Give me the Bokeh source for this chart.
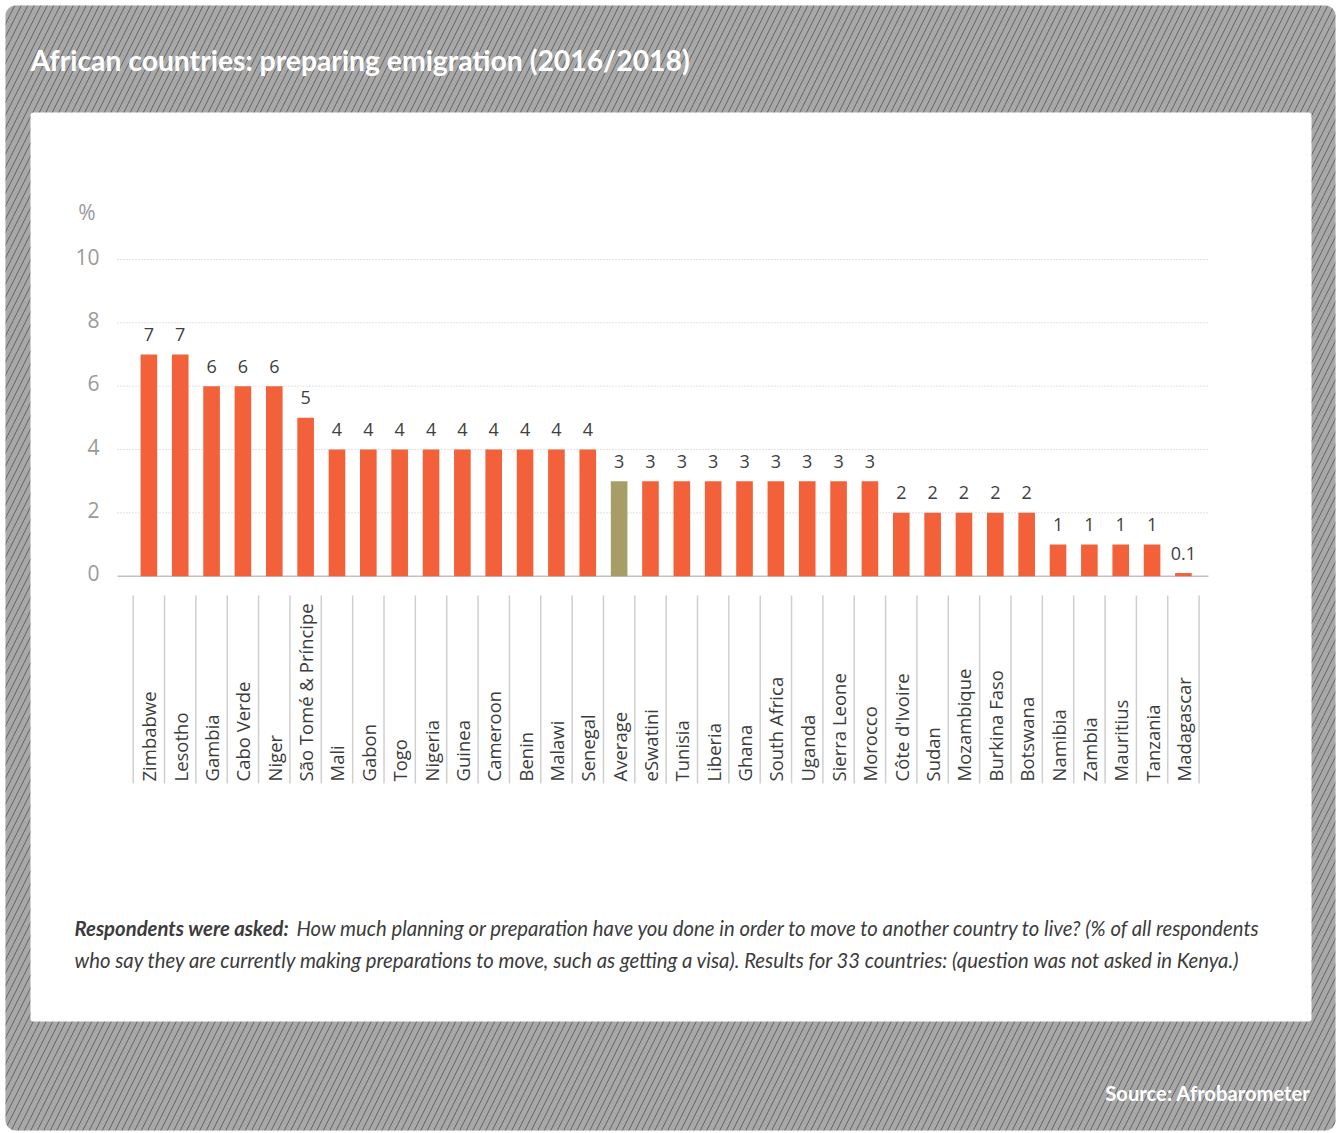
import math
from bokeh.plotting import figure
from bokeh.models import Range1d, BoxAnnotation, Label, ColumnDataSource
from bokeh.core.properties import value
from bokeh.embed import file_html
from bokeh.resources import INLINE

# ---------------- data ----------------
countries = ["Zimbabwe", "Lesotho", "Gambia", "Cabo Verde", "Niger", "São Tomé & Príncipe",
             "Mali", "Gabon", "Togo", "Nigeria", "Guinea", "Cameroon", "Benin", "Malawi",
             "Senegal", "Average", "eSwatini", "Tunisia", "Liberia", "Ghana", "South Africa",
             "Uganda", "Sierra Leone", "Morocco", "Côte d'Ivoire", "Sudan", "Mozambique",
             "Burkina Faso", "Botswana", "Namibia", "Zambia", "Mauritius", "Tanzania", "Madagascar"]
values = [7, 7, 6, 6, 6, 5,
          4, 4, 4, 4, 4, 4, 4, 4,
          4, 3, 3, 3, 3, 3, 3,
          3, 3, 3, 2, 2, 2,
          2, 2, 1, 1, 1, 1, 0.1]
y_ticks = [0, 2, 4, 6, 8, 10]
y_unit = "%"
highlight = "Average"

title_text = "African countries: preparing emigration (2016/2018)"
note_bold = "Respondents were asked:"
note_line1 = ("How much planning or preparation have you done in order to move to another "
              "country to live? (% of all respondents")
note_line2 = ("who say they are currently making preparations to move, such as getting a visa). "
              "Results for 33 countries: (question was not asked in Kenya.)")
source_text = "Source: Afrobarometer"

# ---------------- layout constants (canvas px) ----------------
W, H = 1336, 1131
ZERO_Y = 575.7          # canvas y of value 0
PX_Y = 31.67            # px per % unit
CAT_PX = 31.35          # px per category
FIRST_EDGE = 132.7      # canvas x of first category boundary
GRID_L, GRID_R = 117, 1208

x_start = -0.5 - FIRST_EDGE / CAT_PX
x_end = x_start + W / CAT_PX
y_end = ZERO_Y / PX_Y
y_start = -(H - ZERO_Y) / PX_Y


def dx(cx):
    return x_start + cx / CAT_PX


def dy(cy):
    return (ZERO_Y - cy) / PX_Y


BAR = "#f26139"
AVG = "#a69e66"
TXT = "#3c3c3c"
GRAY_TXT = "#9a9a9a"

idx = list(range(len(countries)))
src = ColumnDataSource(dict(
    x=idx,
    v=values,
    name=countries,
    lab=[f"{v:g}" for v in values],
    color=[AVG if c == highlight else BAR for c in countries],
))

p = figure(width=W, height=H, x_range=Range1d(x_start, x_end), y_range=Range1d(y_start, y_end),
           output_backend="svg", toolbar_location=None, x_axis_location=None,
           y_axis_location=None, title_location=None,
           min_border=0, min_border_left=0, min_border_right=0, min_border_top=0,
           min_border_bottom=0, background_fill_color=None, border_fill_color=None,
           outline_line_color=None)
p.grid.visible = False

# background panels
outer = BoxAnnotation(left=dx(5), right=dx(1335), top=dy(5), bottom=dy(1130),
                      fill_color="#a8a8a8", fill_alpha=1,
                      hatch_pattern="/", hatch_color="#626262", hatch_scale=13,
                      hatch_weight=1.0, hatch_alpha=1, line_color="#c4c4c4", line_width=1,
                      border_radius=10, level="image")
inner = BoxAnnotation(left=dx(30), right=dx(1311), top=dy(112), bottom=dy(1021),
                      fill_color="white", fill_alpha=1,
                      line_color=None, border_radius=3, level="image")
p.add_layout(outer)
p.add_layout(inner)

# y grid + baseline
grid_y = [t for t in y_ticks if t != 0]
p.segment(x0=[dx(GRID_L)] * len(grid_y), x1=[dx(GRID_R)] * len(grid_y), y0=grid_y, y1=grid_y,
          line_color="#c4c4c4", line_dash="1 2", line_width=1)
p.segment(x0=[dx(GRID_L)], x1=[dx(GRID_R)], y0=[0], y1=[0], line_color="#c2c2c2", line_width=1.5)

# y tick labels
p.text(x=[dx(99)] * len(y_ticks), y=y_ticks, text=[str(t) for t in y_ticks],
       text_align="right", text_baseline="middle", y_offset=-3,
       text_font=value("Open Sans"), text_font_size="21px", text_color=GRAY_TXT)
p.text(x=[dx(95)], y=[dy(212.5)], text=[y_unit], text_align="right", text_baseline="middle",
       y_offset=-1, text_font=value("Open Sans"), text_font_size="21px", text_color=GRAY_TXT)

# bars
p.vbar(x="x", top="v", bottom=0, width=0.53, source=src, fill_color="color", line_color=None)

# value labels
p.text(x="x", y="v", text="lab", source=src, y_offset=-20, text_align="center",
       text_baseline="alphabetic", text_font=value("Open Sans"), text_font_size="18px",
       text_color="#404040")

# category separators and labels
edges = [i - 0.5 for i in range(len(countries) + 1)]
p.segment(x0=edges, x1=edges, y0=[dy(595)] * len(edges), y1=[dy(783)] * len(edges),
          line_color="#cfcfcf", line_width=1.5)
p.text(x="x", y=dy(781), text="name", source=src, angle=math.pi / 2, text_align="left",
       text_baseline="middle", text_font=value("Open Sans"), text_font_size="18.5px",
       text_color=TXT)

# texts (Label's alphabetic baseline lands ~0.4em below y, so y is raised accordingly)
p.add_layout(Label(x=dx(30), y=dy(59), text=title_text,
                   text_font="Lato", text_font_style="bold", text_font_size="28.3px",
                   text_color="white", text_align="left", text_baseline="alphabetic"))
p.add_layout(Label(x=dx(74), y=dy(927), text=note_bold,
                   text_font="Lato", text_font_style="bold italic", text_font_size="20.3px",
                   text_color=TXT, text_align="left", text_baseline="alphabetic"))
p.add_layout(Label(x=dx(296), y=dy(927), text=note_line1,
                   text_font="Lato", text_font_style="italic", text_font_size="20.3px",
                   text_color=TXT, text_align="left", text_baseline="alphabetic"))
p.add_layout(Label(x=dx(74), y=dy(959), text=note_line2,
                   text_font="Lato", text_font_style="italic", text_font_size="20.3px",
                   text_color=TXT, text_align="left", text_baseline="alphabetic"))
p.add_layout(Label(x=dx(1310), y=dy(1092), text=source_text,
                   text_font="Lato", text_font_style="bold", text_font_size="20.2px",
                   text_color="white", text_align="right", text_baseline="alphabetic"))

open("out.html", "w").write(file_html(p, INLINE))
